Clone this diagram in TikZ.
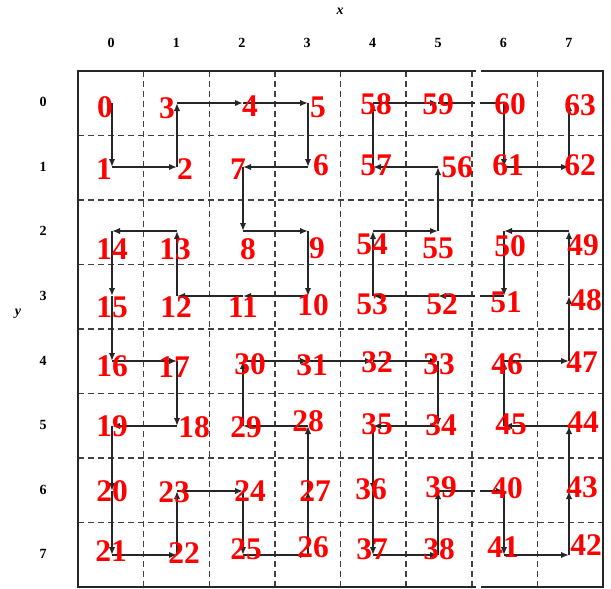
\documentclass[tikz,border=0pt]{standalone}
\usepackage{fontspec}
\setmainfont{Liberation Serif}
\usetikzlibrary{arrows.meta}
\begin{document}
\begin{tikzpicture}[x=1pt,y=-1pt,
  border/.style={line width=2pt, black!85},
  gridline/.style={line width=1.5pt, black!75, dash pattern=on 6pt off 4pt},
  pathseg/.style={line width=2.2pt, black!85, -{Latex[length=8pt,width=6.5pt]}},
  num/.style={text=red, font=\fontsize{31.5}{31.5}\selectfont\bfseries, inner sep=0pt},
  axlab/.style={font=\fontsize{14}{14}\selectfont\bfseries, inner sep=0pt},
  axname/.style={font=\fontsize{14}{14}\selectfont\bfseries\itshape, inner sep=0pt},
  gapmask/.style={fill=white, draw=none}]
\useasboundingbox (0,0) rectangle (611,589);
% dashed grid
\foreach \k in {1,...,7} {
  \draw[gridline] ({78+65.625*\k},71) -- ({78+65.625*\k},587);
  \draw[gridline] (78,{71+64.5*\k}) -- (603,{71+64.5*\k});
}
\draw[border] (78,71) rectangle (603,587);
% path points
\foreach \n/\c/\r in {0/0/0,1/0/1,2/1/1,3/1/0,4/2/0,5/3/0,6/3/1,7/2/1,8/2/2,9/3/2,
  10/3/3,11/2/3,12/1/3,13/1/2,14/0/2,15/0/3,16/0/4,17/1/4,18/1/5,19/0/5,
  20/0/6,21/0/7,22/1/7,23/1/6,24/2/6,25/2/7,26/3/7,27/3/6,28/3/5,29/2/5,
  30/2/4,31/3/4,32/4/4,33/5/4,34/5/5,35/4/5,36/4/6,37/4/7,38/5/7,39/5/6,
  40/6/6,41/6/7,42/7/7,43/7/6,44/7/5,45/6/5,46/6/4,47/7/4,48/7/3,49/7/2,
  50/6/2,51/6/3,52/5/3,53/4/3,54/4/2,55/5/2,56/5/1,57/4/1,58/4/0,59/5/0,
  60/6/0,61/6/1,62/7/1,63/7/0} {
  \pgfmathsetmacro\xx{{112,177,243,308,373,438,504,569}[\c]}
  \pgfmathsetmacro\yy{{103,167,231,296,361,426,491,555}[\r]}
  \coordinate (p\n) at (\xx,\yy);
}
\foreach \a [evaluate=\a as \b using int(\a+1)] in {0,...,62}
  \draw[pathseg] (p\a) -- (p\b);
% scan seam
\fill[gapmask] (475.5,66) rectangle (480.5,76);
\fill[gapmask] (475.5,582) rectangle (480.5,589);
\fill[gapmask] (474.5,99) rectangle (480,107);
\fill[gapmask] (474.5,292) rectangle (480,300);
\fill[gapmask] (474.5,487) rectangle (480,495);
% numbers
\foreach \n/\x/\y in {0/105/107,1/104/169,2/185/169,3/167/108,4/250/106,5/318/107,
  6/321/165,7/238/169,8/248/249,9/317/248,10/313/305,11/243/307,12/176/307,
  13/175/249,14/112/249,15/112/307,16/112/366,17/174/367,18/194/427,19/112/426,
  20/112/491,21/111/551,22/184/553,23/174/492,24/250/491,25/246/549,26/313/547,
  27/315/491,28/308/421,29/246/427,30/250/364,31/312/365,32/377/362,33/439/364,
  34/441/425,35/377/424,36/371/489,37/372/549,38/439/549,39/441/487,40/507/488,
  41/503/547,42/586/545,43/582/487,44/583/422,45/511/424,46/507/364,47/582/362,
  48/586/300,49/583/245,50/510/246,51/506/302,52/442/304,53/372/304,54/372/244,
  55/438/248,56/457/167,57/376/165,58/376/104,59/438/104,60/510/104,61/508/165,
  62/580/165,63/580/105}
  \node[num] (t\n) at (\x,\y) {\n};
% axis labels
\foreach \k [evaluate=\k as \cx using 111+65.4*\k, evaluate=\k as \ry using 102+64.6*\k] in {0,...,7} {
  \node[axlab] (cx\k) at (\cx,43) {\k};
  \node[axlab] (ry\k) at (43,\ry) {\k};
}
\node[axname] (xname) at (340,11) {x};
\node[axname] (yname) at (18,314) {y};
\end{tikzpicture}
\end{document}
